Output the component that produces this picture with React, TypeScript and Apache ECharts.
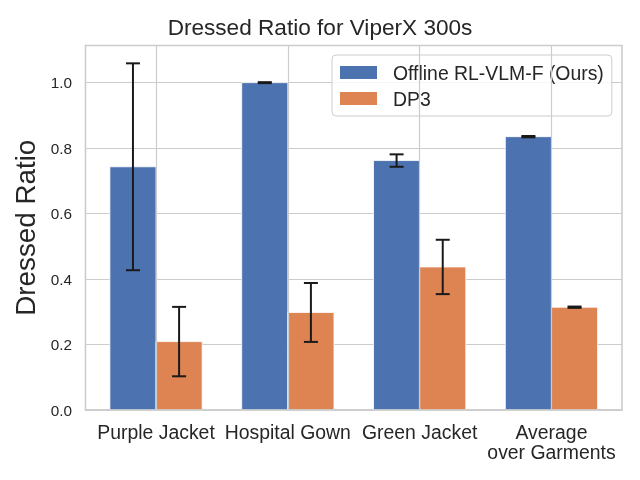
import React, { useEffect, useRef } from "react";
import * as echarts from "echarts";

const categories = ["Purple Jacket", "Hospital Gown", "Green Jacket", "Average\nover Garments"];
const seriesNames = ["Offline RL-VLM-F (Ours)", "DP3"];
const oursMean = [0.743, 1.0, 0.762, 0.835];
const oursErr = [0.316, 0.0015, 0.019, 0.002];
const dp3Mean = [0.209, 0.298, 0.437, 0.314];
const dp3Err = [0.106, 0.09, 0.083, 0.002];
const yTicks = [0, 0.2, 0.4, 0.6, 0.8, 1.0];
const catIdx = [0, 1, 2, 3];

const BLUE = "#4c72b0";
const ORANGE = "#dd8452";
const TXT = "#262626";
const GRIDC = "#cccccc";
const FONT = "'Liberation Sans', Arial, sans-serif";
const BAR_W = 0.35;

function barRender(color: string) {
  return (params: any, api: any) => {
    const x = api.value(0);
    const v = api.value(1);
    const p0 = api.coord([x - BAR_W / 2, v]);
    const p1 = api.coord([x + BAR_W / 2, 0]);
    return {
      type: "rect",
      shape: { x: p0[0], y: p0[1], width: p1[0] - p0[0], height: p1[1] - p0[1] },
      style: { fill: color, stroke: "#ffffff", lineWidth: 0.8 },
    };
  };
}

function errRender(params: any, api: any) {
  const x = api.value(0);
  const m = api.value(1);
  const e = api.value(2);
  const top = api.coord([x, m + e]);
  const bot = api.coord([x, m - e]);
  const cap = 7;
  const st = { stroke: "#1a1a1a", lineWidth: 2 };
  return {
    type: "group",
    children: [
      { type: "line", shape: { x1: top[0], y1: top[1], x2: bot[0], y2: bot[1] }, style: st },
      { type: "line", shape: { x1: top[0] - cap, y1: top[1], x2: top[0] + cap, y2: top[1] }, style: st },
      { type: "line", shape: { x1: bot[0] - cap, y1: bot[1], x2: bot[0] + cap, y2: bot[1] }, style: st },
    ],
  };
}

export default function App() {
  const ref = useRef<HTMLDivElement>(null);
  useEffect(() => {
    if (!ref.current) return;
    const chart = echarts.init(ref.current, undefined, { renderer: "svg" });
    const oursData = catIdx.map((i) => [i - BAR_W / 2, oursMean[i]]);
    const dp3Data = catIdx.map((i) => [i + BAR_W / 2, dp3Mean[i]]);
    const errData = [
      ...catIdx.map((i) => [i - BAR_W / 2, oursMean[i], oursErr[i]]),
      ...catIdx.map((i) => [i + BAR_W / 2, dp3Mean[i], dp3Err[i]]),
    ];
    chart.setOption({
      animation: false,
      textStyle: { fontFamily: FONT },
      title: {
        text: "Dressed Ratio for ViperX 300s",
        left: "center",
        top: 16,
        padding: 0,
        textStyle: { fontFamily: FONT, fontSize: 22.6, fontWeight: "normal", color: TXT },
      },
      legend: {
        orient: "vertical",
        left: 332,
        top: 55,
        padding: [8, 8, 8, 8],
        itemWidth: 37,
        itemHeight: 13,
        itemGap: 7,
        backgroundColor: "rgba(255,255,255,0.8)",
        borderColor: GRIDC,
        borderWidth: 1,
        borderRadius: 4,
        data: [
          { name: seriesNames[0], icon: "rect" },
          { name: seriesNames[1], icon: "rect" },
        ],
        textStyle: { fontFamily: FONT, fontSize: 19.4, color: TXT, padding: [0, 0, 0, 11] },
        itemStyle: { borderWidth: 0 },
      },
      grid: {
        left: 85.5,
        right: 18,
        top: 45.5,
        bottom: 70,
        show: true,
        borderColor: GRIDC,
        borderWidth: 1.6,
        backgroundColor: "#ffffff",
      },
      xAxis: {
        type: "value",
        min: -0.535,
        max: 3.535,
        z: 10,
        axisLine: { show: true, lineStyle: { color: GRIDC, width: 1.6 } },
        axisTick: { show: false, customValues: catIdx },
        axisLabel: {
          customValues: catIdx,
          formatter: (v: number) => categories[Math.round(v)],
          fontFamily: FONT,
          fontSize: 19.4,
          lineHeight: 20,
          color: TXT,
          margin: 12,
          align: "center",
        },
        splitLine: { show: true, lineStyle: { color: GRIDC, width: 1.2 } },
      },
      yAxis: {
        type: "value",
        min: 0,
        max: 1.1135,
        name: "Dressed Ratio",
        nameLocation: "middle",
        nameGap: 44,
        nameTextStyle: { fontFamily: FONT, fontSize: 27.8, color: TXT },
        axisLine: { show: false },
        axisTick: { show: false, customValues: yTicks },
        axisLabel: {
          customValues: yTicks,
          formatter: (v: number) => v.toFixed(1),
          fontFamily: FONT,
          fontSize: 15.3,
          color: TXT,
          margin: 13.5,
        },
        splitLine: { show: true, lineStyle: { color: GRIDC, width: 1.2 } },
      },
      series: [
        {
          name: seriesNames[0],
          type: "custom",
          renderItem: barRender(BLUE),
          itemStyle: { color: BLUE },
          data: oursData,
          encode: { x: 0, y: 1 },
          z: 2,
        },
        {
          name: seriesNames[1],
          type: "custom",
          renderItem: barRender(ORANGE),
          itemStyle: { color: ORANGE },
          data: dp3Data,
          encode: { x: 0, y: 1 },
          z: 2,
        },
        {
          name: "err",
          type: "custom",
          renderItem: errRender,
          data: errData,
          encode: { x: 0, y: 1 },
          z: 3,
        },
      ],
    });
    return () => chart.dispose();
  }, []);
  return (
    <div
      ref={ref}
      style={{ position: "fixed", left: 0, top: 0, width: 640, height: 480 }}
    />
  );
}
